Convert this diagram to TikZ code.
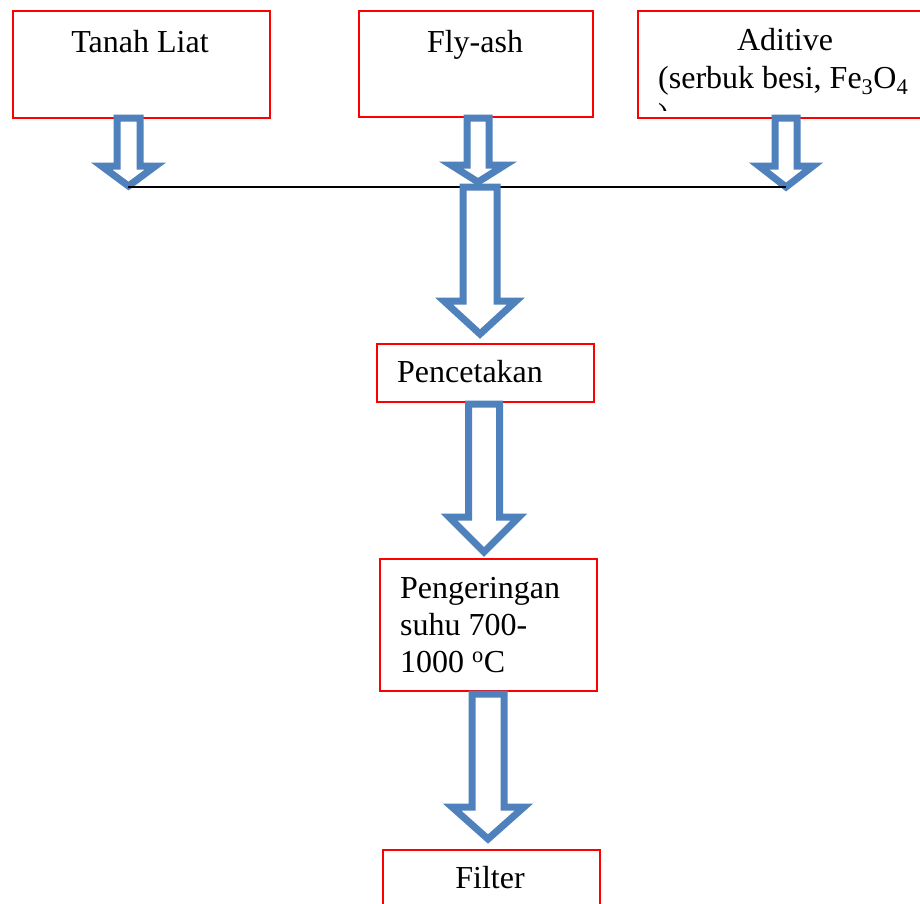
\documentclass[tikz,border=0pt]{standalone}
\usepackage{fontspec}
\setmainfont{Liberation Serif}
\definecolor{arrblue}{HTML}{4F81BD}
\definecolor{boxred}{HTML}{FF0000}
\tikzset{
  box/.style={draw=boxred, line width=2pt, fill=white, rectangle, inner sep=0pt, anchor=north west},
  lbl/.style={inner sep=0pt, font=\fontsize{32}{37}\selectfont},
  barrow/.style={draw=arrblue, line width=7pt, fill=white, line join=miter, miter limit=10},
}
\newcommand\blockarr[6]{%
  \draw[barrow] ({#1-#2},#4) -- ({#1-#2},#5) -- ({#1-#3},#5) -- (#1,#6)
    -- ({#1+#3},#5) -- ({#1+#2},#5) -- ({#1+#2},#4) -- cycle;}
\begin{document}
\begin{tikzpicture}[x=1pt,y=-1pt]
\clip (0,0) rectangle (920,903);
\fill[white] (0,0) rectangle (920,903);
% boxes
\node[box, minimum width=257pt, minimum height=107pt] (tanah) at (12,10) {};
\node[box, minimum width=234pt, minimum height=106pt] (fly) at (358,10) {};
\node[box, minimum width=296pt, minimum height=107pt] (adit) at (637,10) {};
\node[box, minimum width=217pt, minimum height=58pt] (cetak) at (376,343) {};
\node[box, minimum width=217pt, minimum height=132pt] (kering) at (379,558) {};
\node[box, minimum width=217pt, minimum height=80pt] (filt) at (382,849) {};
% texts
\node[lbl, anchor=base] (tTanah) at (140,52) {Tanah Liat};
\node[lbl, anchor=base] (tFly) at (475,52) {Fly-ash};
\node[lbl, anchor=base] (tAdit1) at (785,50) {Aditive};
\node[lbl, anchor=base west] (tAdit2) at (658,88) {(serbuk besi, Fe\textsubscript{3}O\textsubscript{4}};
\begin{scope}
\clip (637,10) rectangle (933,110);
\node[lbl, anchor=base west] (tAdit3) at (658,125) {)};
\end{scope}
\node[lbl, anchor=base west] (tCetak) at (397,382) {Pencetakan};
\node[lbl, anchor=base west] (tKering1) at (400,598) {Pengeringan};
\node[lbl, anchor=base west] (tKering2) at (400,635) {suhu 700-};
\node[lbl, anchor=base west] (tKering3) at (400,672) {1000 \textsuperscript{o}C};
\node[lbl, anchor=base] (tFilt) at (490,888) {Filter};
% collector line
\coordinate (jl) at (128,187);
\coordinate (jr) at (786,187);
% small arrows
\blockarr{128.5}{11.5}{27}{118}{166}{186}
\blockarr{478}{11}{27}{118}{165}{182}
\blockarr{786}{11}{27}{118}{166}{187}
\draw[black, line width=1.8pt] (jl) -- (jr);
% big arrows
\blockarr{480}{17}{36}{187}{301}{334}
\blockarr{484}{15.5}{35}{404}{517}{552}
\blockarr{488}{16}{36}{694}{807}{839}
\end{tikzpicture}
\end{document}
